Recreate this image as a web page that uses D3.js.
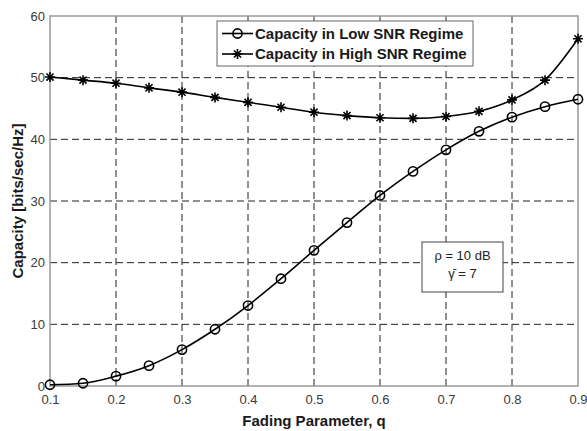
<!DOCTYPE html>
<html>
<head>
<meta charset="utf-8">
<script src="https://cdn.jsdelivr.net/npm/d3@7"></script>
<style>
  body { margin: 0; background: #fff; }
  svg { display: block; font-family: "Liberation Sans", Arial, sans-serif; }
</style>
</head>
<body>
<svg id="chart" width="587" height="431"></svg>
<script>
// fading parameter q
const qValues = [0.1, 0.15, 0.2, 0.25, 0.3, 0.35, 0.4, 0.45, 0.5, 0.55, 0.6, 0.65, 0.7, 0.75, 0.8, 0.85, 0.9];

// capacity
const lowSnr = [0.2, 0.45, 1.6, 3.3, 5.9, 9.2, 13.05, 17.4, 22.0, 26.5, 30.9, 34.8, 38.3, 41.3, 43.6, 45.3, 46.5];
const highSnr = [50.1, 49.6, 49.1, 48.35, 47.65, 46.8, 46.0, 45.2, 44.4, 43.85, 43.5, 43.4, 43.7, 44.55, 46.4, 49.6, 56.3];

const xTicks = [0.1, 0.2, 0.3, 0.4, 0.5, 0.6, 0.7, 0.8, 0.9];
const yTicks = [0, 10, 20, 30, 40, 50, 60];

const legendLabels = ["Capacity in Low SNR Regime", "Capacity in High SNR Regime"];
const noteLines = ["\u03C1 = 10 dB", "\u03B3\u0304 = 7"];

const svg = d3.select("#chart");
const margin = { top: 16, right: 9, bottom: 45, left: 50 };
const width = 587 - margin.left - margin.right;
const height = 431 - margin.top - margin.bottom;

const g = svg.append("g").attr("transform", `translate(${margin.left},${margin.top})`);

const x = d3.scaleLinear().domain([0.1, 0.9]).range([0, width]);
const y = d3.scaleLinear().domain([0, 60]).range([height, 0]);

// Grid
g.selectAll(".vgrid")
    .data(xTicks.slice(1, -1))
    .enter()
    .append("line")
    .attr("x1", d => x(d)).attr("x2", d => x(d))
    .attr("y1", 0).attr("y2", height)
    .attr("stroke", "#222")
    .attr("stroke-width", 1)
    .attr("stroke-dasharray", "7,4");

g.selectAll(".hgrid")
    .data(yTicks.slice(1, -1))
    .enter()
    .append("line")
    .attr("x1", 0).attr("x2", width)
    .attr("y1", d => y(d)).attr("y2", d => y(d))
    .attr("stroke", "#222")
    .attr("stroke-width", 1)
    .attr("stroke-dasharray", "7,4");

// Axes
const xAxis = g.append("g")
    .attr("transform", `translate(0,${height})`)
    .call(d3.axisBottom(x).tickValues(xTicks).tickSize(0).tickPadding(9).tickFormat(d3.format(".1f")));
const yAxis = g.append("g")
    .call(d3.axisLeft(y).tickValues(yTicks).tickSize(0).tickPadding(5));

[xAxis, yAxis].forEach(a => {
    a.select(".domain").remove();
    a.selectAll("text")
        .attr("fill", "#3a3a3a")
        .style("font-size", "13px")
        .style("font-family", "Liberation Sans, Arial, sans-serif");
});

// Box
g.append("rect")
    .attr("width", width).attr("height", height)
    .attr("fill", "none")
    .attr("stroke", "#999")
    .attr("stroke-width", 1.5);

// Lines
const line = d3.line()
    .x((d, i) => x(qValues[i]))
    .y(d => y(d))
    .curve(d3.curveMonotoneX);

g.append("path").datum(lowSnr)
    .attr("d", line).attr("fill", "none")
    .attr("stroke", "#000").attr("stroke-width", 1.6);

g.append("path").datum(highSnr)
    .attr("d", line).attr("fill", "none")
    .attr("stroke", "#000").attr("stroke-width", 1.6);

// Markers
function drawStar(sel, r) {
    const a = r * Math.SQRT1_2;
    sel.append("path")
        .attr("d", `M${-r},0H${r}M0,${-r}V${r}M${-a},${-a}L${a},${a}M${-a},${a}L${a},${-a}`)
        .attr("stroke", "#000")
        .attr("stroke-width", 1.6);
}

g.selectAll(".circ")
    .data(lowSnr)
    .enter()
    .append("circle")
    .attr("cx", (d, i) => x(qValues[i]))
    .attr("cy", d => y(d))
    .attr("r", 4.6)
    .attr("fill", "none")
    .attr("stroke", "#000")
    .attr("stroke-width", 1.6);

g.selectAll(".star")
    .data(highSnr)
    .enter()
    .append("g")
    .attr("transform", (d, i) => `translate(${x(qValues[i])},${y(d)})`)
    .each(function() { drawStar(d3.select(this), 5); });

// Legend
const legend = svg.append("g").attr("transform", "translate(217,21)");
legend.append("rect")
    .attr("width", 256).attr("height", 45)
    .attr("fill", "#fff")
    .attr("stroke", "#666")
    .attr("stroke-width", 1);

legendLabels.forEach((label, i) => {
    const row = legend.append("g").attr("transform", `translate(0,${12.5 + i * 20.5})`);
    row.append("line")
        .attr("x1", 5).attr("x2", 36)
        .attr("stroke", "#000").attr("stroke-width", 1.6);
    if (i === 0) {
        row.append("circle").attr("cx", 20.5).attr("r", 4.6)
            .attr("fill", "none").attr("stroke", "#000").attr("stroke-width", 1.6);
    } else {
        const m = row.append("g").attr("transform", "translate(20.5,0)");
        drawStar(m, 5);
    }
    row.append("text")
        .attr("x", 38)
        .attr("dy", "0.36em")
        .attr("fill", "#1a1a1a")
        .style("font-size", "15px")
        .style("font-weight", "bold")
        .text(label);
});

// Annotation box
const note = svg.append("g").attr("transform", "translate(422,242)");
note.append("rect")
    .attr("width", 81).attr("height", 50)
    .attr("fill", "#fff")
    .attr("stroke", "#444")
    .attr("stroke-width", 1);
note.selectAll("text")
    .data(noteLines)
    .enter()
    .append("text")
    .attr("x", 40.5)
    .attr("y", (d, i) => 13 + i * 18)
    .attr("dy", "0.36em")
    .attr("text-anchor", "middle")
    .attr("fill", "#222")
    .style("font-size", "13px")
    .text(d => d);

// Axis labels
svg.append("text")
    .attr("x", margin.left + width / 2)
    .attr("y", 421)
    .attr("dy", "0.36em")
    .attr("text-anchor", "middle")
    .attr("fill", "#1a1a1a")
    .style("font-size", "15px")
    .style("font-weight", "bold")
    .text("Fading Parameter, q");

svg.append("text")
    .attr("transform", `translate(18,${margin.top + height / 2}) rotate(-90)`)
    .attr("dy", "0.36em")
    .attr("text-anchor", "middle")
    .attr("fill", "#1a1a1a")
    .style("font-size", "15px")
    .style("font-weight", "bold")
    .text("Capacity [bits/sec/Hz]");
</script>
</body>
</html>
